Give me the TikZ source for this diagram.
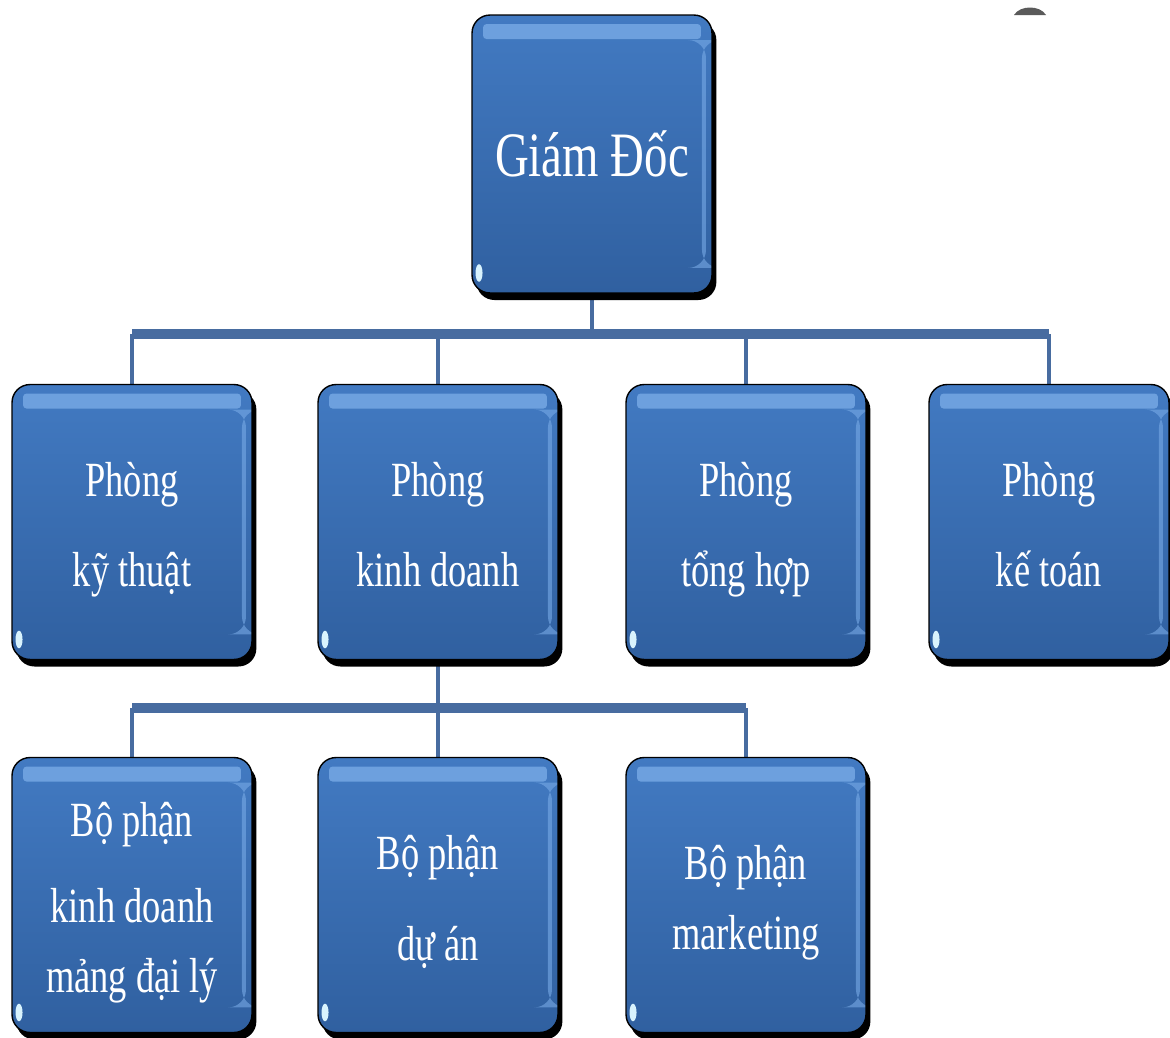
\documentclass[tikz,border=0pt]{standalone}
\usepackage{fontspec}
\setmainfont[FakeStretch=0.74]{Liberation Serif}
\usetikzlibrary{shadows,backgrounds}

\definecolor{boxtop}{RGB}{66,122,194}
\definecolor{boxbot}{RGB}{48,96,160}
\definecolor{hilite}{RGB}{120,170,230}
\definecolor{linkblue}{RGB}{72,108,160}
\definecolor{blobgray}{RGB}{90,90,90}

\newcommand\lstrut{\rule[-0.3em]{0pt}{1.4em}}

\tikzset{
  unit/.style={rectangle, rounded corners=0.36cm, draw=black, line width=0.8pt,
    top color=boxtop, bottom color=boxbot, text=white, align=center,
    minimum width=4.8cm, minimum height=5.5cm, inner sep=0pt,
    font=\fontsize{28}{51}\selectfont,
    drop shadow={shadow xshift=2.5pt, shadow yshift=-4pt, fill=black, opacity=1},
    path picture={
      \fill[hilite, opacity=0.8, rounded corners=2pt]
        ([xshift=0.22cm,yshift=-0.18cm]path picture bounding box.north west) rectangle
        ([xshift=-0.22cm,yshift=-0.48cm]path picture bounding box.north east);
      \fill[hilite, opacity=0.6]
        ([xshift=-0.12cm,yshift=-0.5cm]path picture bounding box.north east) rectangle
        ([xshift=-0.2cm,yshift=0.5cm]path picture bounding box.south east);
      \fill[white!85!cyan]
        ([xshift=0.14cm,yshift=0.4cm]path picture bounding box.south west) ellipse (2pt and 5pt);
    }},
  bus/.style={linkblue, line width=5.5pt},
  stem/.style={linkblue, line width=2.6pt}
}

\begin{document}
\begin{tikzpicture}[x=0.02cm, y=-0.02cm]
%\draw[step=50,gray,very thin] (0,0) grid (1170,1038); %background grid
\useasboundingbox (0,0) rectangle (1170,1038);

\node[unit, minimum height=5.56cm, font=\fontsize{36}{40}\selectfont] (gd) at (592,154) {Giám Đốc};

\node[unit] (pkt)  at (132,522)  {\lstrut Phòng\\\lstrut kỹ thuật};
\node[unit] (pkd)  at (438,522)  {\lstrut Phòng\\\lstrut kinh doanh};
\node[unit] (pth)  at (746,522)  {\lstrut Phòng\\\lstrut tổng hợp};
\node[unit] (pkto) at (1049,522) {\lstrut Phòng\\\lstrut kế toán};

\node[unit] (bkd) at (132,895) {\lstrut Bộ phận\\[-2pt]\lstrut kinh doanh\\[-11pt]\lstrut mảng đại lý};
\node[unit] (bda) at (438,895) {\lstrut Bộ phận\\[1pt]\lstrut dự án};
\node[unit] (bmk) at (746,895) {\lstrut Bộ phận\\[-11pt]\lstrut marketing};

\coordinate (busA) at (0,334);
\coordinate (busB) at (0,708);

\begin{scope}[on background layer]
\draw[stem] (gd.south) -- (gd.south |- busA);
\draw[bus] (pkt.north |- busA) -- (pkto.north |- busA);
\foreach \n in {pkt,pkd,pth,pkto}
  \draw[stem] (\n.north |- busA) -- (\n.north);

\draw[stem] (pkd.south) -- (pkd.south |- busB);
\draw[bus] (bkd.north |- busB) -- (bmk.north |- busB);
\foreach \n in {bkd,bda,bmk}
  \draw[stem] (\n.north |- busB) -- (\n.north);
\end{scope}

\fill[blobgray] (1014,15) .. controls (1020,5) and (1040,5) .. (1046,15) -- cycle;
\end{tikzpicture}
\end{document}
